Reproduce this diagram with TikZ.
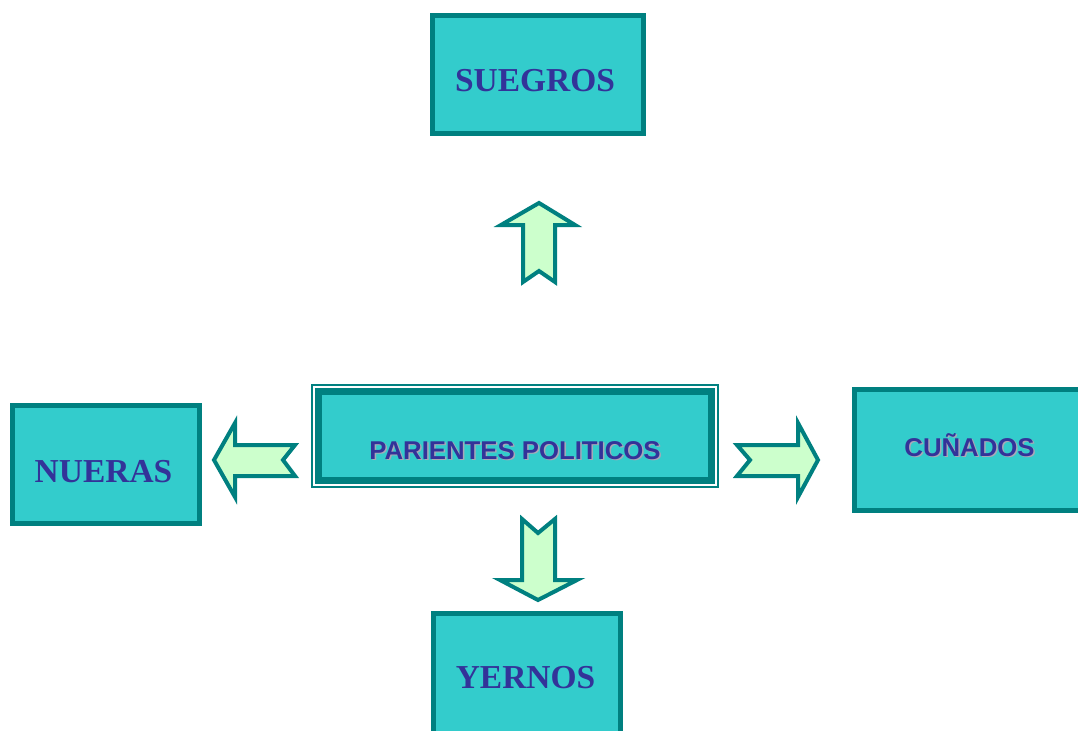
\documentclass[tikz,border=0pt]{standalone}
\usepackage{fontspec}
\setmainfont{Liberation Serif}
\setsansfont{Liberation Sans}
\usepackage{tikz}
\usetikzlibrary{calc}
\usetikzlibrary{positioning}

\definecolor{tealline}{HTML}{008080}
\definecolor{boxfill}{HTML}{33CCCC}
\definecolor{arrowfill}{HTML}{CCFFCC}
\definecolor{labelblue}{HTML}{333399}
\definecolor{shadowgrey}{HTML}{A8A8B8}

\tikzset{
  kinbox/.style={rectangle, draw=tealline, fill=boxfill, line width=3.75pt, inner sep=0pt},
  blockarrow/.style={draw=tealline, fill=arrowfill, line width=3pt, line join=miter},
  seriflabel/.style={anchor=base, inner sep=0pt, text=labelblue, font=\fontsize{25.1}{30}\selectfont\bfseries},
  sanslabel/.style={anchor=base, inner sep=0pt, text=labelblue, font=\fontsize{19.3}{23}\selectfont\sffamily\bfseries},
  sansshadow/.style={sanslabel, text=shadowgrey}
}

\begin{document}
\begin{tikzpicture}[x=0.75pt, y=-0.75pt]
\clip (0,0) rectangle (1078,731);
\fill [white] (0,0) rectangle (1078,731);

% boxes
\node [kinbox, minimum width=158.25pt, minimum height=88.05pt] (S) at (538, 74.5) {};
\node [kinbox, minimum width=140.25pt, minimum height=88.5pt] (N) at (106, 464.5) {};
\node [kinbox, minimum width=184.5pt, minimum height=90.6pt] (C) at (977, 450) {};
\node [kinbox, minimum width=140pt, minimum height=102.75pt] (Y) at (526.9, 681.6) {};

% centre box with double frame
\node [rectangle, draw=tealline, line width=1.5pt, inner sep=0pt, minimum width=304.5pt, minimum height=76.35pt] (P0) at (515.2, 436.1) {};
\node [kinbox, line width=5.25pt, minimum width=294.3pt, minimum height=66.6pt] (P) at (515, 436.1) {};

% labels
\node [seriflabel] (St) at (535, 92) {SUEGROS};
\node [seriflabel] (Nt) at (103.5, 482) {NUERAS};
\node [seriflabel] (Yt) at (525.5, 688) {YERNOS};
\node [sansshadow] (Cs) at (971, 457.5) {CUÑADOS};
\node [sanslabel] (Ct) at (969.5, 456) {CUÑADOS};
\node [sansshadow] (Ps) at (516.5, 460.5) {PARIENTES POLITICOS};
\node [sanslabel] (Pt) at (515, 459) {PARIENTES POLITICOS};

% block arrows
\draw [blockarrow] (539,203) -- (575,225) -- (555,225) -- (555,282) -- (539,271) -- (523,282) -- (523,225) -- (501,225) -- cycle;
\draw [blockarrow] (214,460) -- (235,423) -- (235,445) -- (295,445) -- (283,460) -- (295,476) -- (235,476) -- (235,497) -- cycle;
\draw [blockarrow] (818,460) -- (798,423) -- (798,445) -- (737,445) -- (750,460) -- (737,476) -- (798,476) -- (798,497) -- cycle;
\draw [blockarrow] (538,600) -- (577,580) -- (555,580) -- (555,519) -- (538,533) -- (522,519) -- (522,580) -- (500,580) -- cycle;
\end{tikzpicture}
\end{document}
